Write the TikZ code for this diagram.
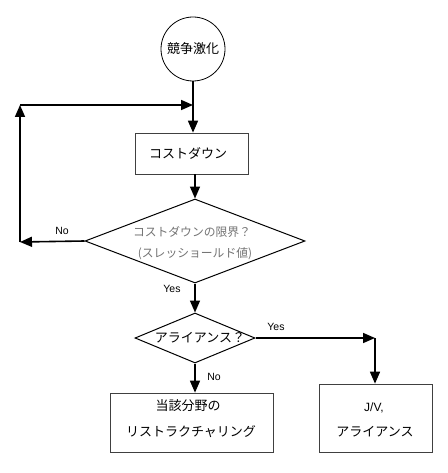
\documentclass[tikz,border=0pt]{standalone}
\usepackage{fontspec}
\setmainfont{Noto Sans CJK JP}
\newfontfamily\lat{Liberation Sans}
\usetikzlibrary{shapes.geometric,arrows.meta}
\tikzset{
  conn/.style={line width=1.6pt,-{Triangle[length=12pt,width=10pt]}},
  boxa/.style={draw=black!75,line width=0.7pt,rectangle,inner sep=0pt},
  diam/.style={draw,line width=1pt,diamond,inner sep=0pt,text width=0pt},
  lbl/.style={font=\lat\fontsize{10.5}{12}\selectfont},
  jt/.style={font=\fontsize{13}{15}\selectfont},
}
\begin{document}
\begin{tikzpicture}[x=1pt,y=-1pt]
\useasboundingbox (0,0) rectangle (447,473);
\node[draw,line width=0.8pt,circle,minimum size=64pt,inner sep=0pt,jt] (c) at (193,49) {競争激化};
\node[boxa,minimum width=113pt,minimum height=41pt] (b1) at (191.5,153.5) {};
\node[jt] (t0) at (188,153) {コストダウン};
\node[diam,minimum width=220pt,minimum height=84pt] (d1) at (195,241) {};
\node[text=black!55,font=\fontsize{11.8}{13}\selectfont] (t1) at (192,232) {コストダウンの限界？};
\node[text=black!55,font=\fontsize{11.8}{13}\selectfont] (t2) at (195,254) {(スレッショールド値)};
\node[diam,minimum width=120pt,minimum height=50pt] (d2) at (195,338) {};
\node[jt] (t3) at (200,338) {アライアンス？};
\node[boxa,minimum width=163pt,minimum height=59pt] (b3) at (191.5,422.5) {};
\node[jt] (t4) at (188,406) {当該分野の};
\node[jt] (t5) at (191,432) {リストラクチャリング};
\node[boxa,minimum width=113pt,minimum height=68pt] (b4) at (375.5,418) {};
\node[font=\lat\fontsize{12}{14}\selectfont] (t6) at (374,408) {J/V,};
\node[jt] (t7) at (375,432) {アライアンス};
\coordinate (L1) at (20,242);
\coordinate (L2) at (20,105);
\coordinate (L3) at (193,105);
\coordinate (R1) at (375,338);
\draw[conn] (c.south) -- (c.south |- b1.north);
\draw[conn] (L2) -- (L3);
\draw[conn] (d1.west) -- (L1);
\draw[conn] (L1) -- (L2);
\draw[conn] (b1.south -| d1.north) -- (d1.north);
\draw[conn] (d1.south) -- (d2.north);
\draw[conn] (d2.south) -- (b3.north -| d2.south);
\draw[conn] (d2.east) -- (R1);
\draw[conn] (R1) -- (R1 |- b4.north);
\node[lbl] (n1) at (62,231) {No};
\node[lbl] (y1) at (172,289) {Yes};
\node[lbl] (n2) at (214,377) {No};
\node[lbl] (y2) at (276,327) {Yes};
\end{tikzpicture}
\end{document}
